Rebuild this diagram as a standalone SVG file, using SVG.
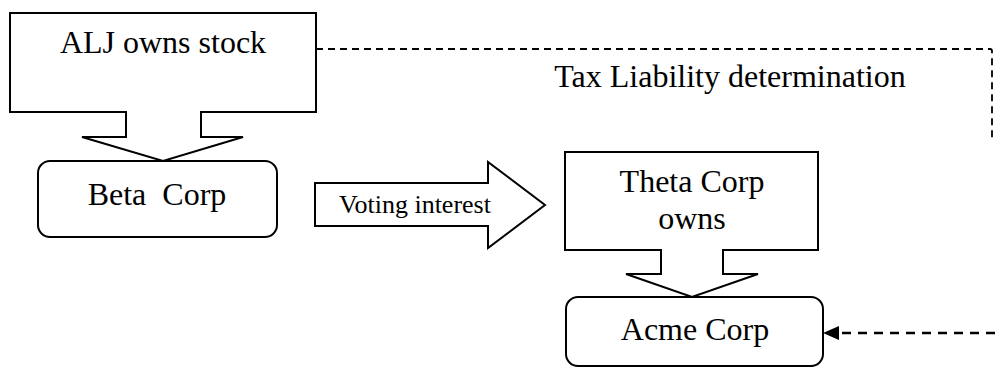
<svg xmlns="http://www.w3.org/2000/svg" width="995" height="367" viewBox="0 0 995 367">
<style>
.shape{fill:#fff;stroke:#000;stroke-width:2;stroke-linejoin:miter}
.t{font-family:"Liberation Serif","Times New Roman",serif;font-size:32px;fill:#000;text-anchor:middle}
.s{font-size:26px}
.dash1{fill:none;stroke:#000;stroke-width:1.8;stroke-dasharray:7,5}
.dash2{fill:none;stroke:#000;stroke-width:2.5;stroke-dasharray:9,7}
</style>
<rect width="995" height="367" fill="#fff"/>
<g id="connectors">
<path class="dash1" d="M316,49 H990 Q992,49 992,51 V140"/>
<path class="dash2" d="M995,333 H839"/>
<path d="M823,333 L839,326 L839,340 Z" fill="#000"/>
</g>
<g id="alj">
<path class="shape" d="M10,13 H316 V112 H201 V137 H243 L163,161 L82,137 H126 V112 H10 Z"/>
<text class="t" x="163" y="53">ALJ owns stock</text>
</g>
<g id="beta">
<rect class="shape" x="38" y="161" width="239" height="76" rx="12"/>
<text class="t" x="157" y="205" xml:space="preserve">Beta  Corp</text>
</g>
<g id="voting">
<path class="shape" d="M315,183 H488 V162 L545,205 L488,248 V226 H315 Z"/>
<text class="t s" x="415" y="213">Voting interest</text>
</g>
<g id="theta">
<path class="shape" d="M565,152 H818 V250 H723 V274 H758 L692,297 L626,274 H661 V250 H565 Z"/>
<text class="t" x="692" y="192">Theta Corp</text>
<text class="t" x="692" y="229">owns</text>
</g>
<g id="acme">
<rect class="shape" x="566" y="297" width="257" height="69" rx="12"/>
<text class="t" x="695" y="340">Acme Corp</text>
</g>
<g id="label">
<text class="t" x="730" y="87">Tax Liability determination</text>
</g>
</svg>
